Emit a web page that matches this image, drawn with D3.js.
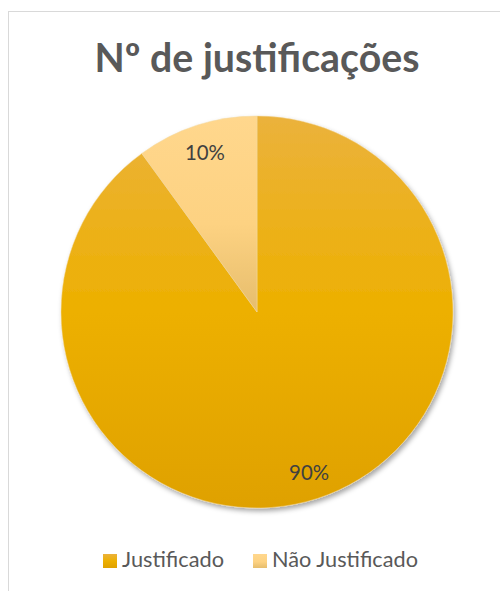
<!DOCTYPE html>
<html>
<head>
<meta charset="utf-8">
<script src="https://cdn.jsdelivr.net/npm/d3@7"></script>
<style>
  body { margin: 0; background: #fff; }
  svg { display: block; }
</style>
</head>
<body>
<div id="chart"></div>
<script>
// data
const categories = ["Justificado", "Não Justificado"];
const values = [90, 10];
const pctLabels = ["90%", "10%"];
const title = "Nº de justificações";

// gradient stops for each slice (top -> bottom)
const sliceStops = [
  [["0%", "#ebb23c"], ["50%", "#edb000"], ["100%", "#dfa100"]],
  [["0%", "#ffd78d"], ["55%", "#fdd282"], ["100%", "#e6bd6c"]]
];

const width = 500, height = 591;
const cx = 257, cy = 312, radius = 196;
const fontFam = "Lato, 'Open Sans', sans-serif";

const svg = d3.select("#chart").append("svg")
  .attr("width", width)
  .attr("height", height);

const defs = svg.append("defs");

sliceStops.forEach((stops, i) => {
  let g = defs.append("linearGradient")
    .attr("id", "grad" + i)
    .attr("x1", 0).attr("y1", 0).attr("x2", 0).attr("y2", 1);
  stops.forEach(s => g.append("stop").attr("offset", s[0]).attr("stop-color", s[1]));
});

let shadow = defs.append("filter").attr("id", "shadow")
  .attr("x", "-10%").attr("y", "-10%").attr("width", "120%").attr("height", "120%");
shadow.append("feDropShadow")
  .attr("dx", 2).attr("dy", 3).attr("stdDeviation", 2.5)
  .attr("flood-color", "#000").attr("flood-opacity", 0.35);

// chart frame
svg.append("rect")
  .attr("x", 8.5).attr("y", 11.5)
  .attr("width", width + 10).attr("height", height + 10)
  .attr("fill", "#fff")
  .attr("stroke", "#d9d9d9");

// helper to fit a text element to a given width
function fitText(sel, targetW, startSize) {
  sel.attr("font-size", startSize);
  let w = sel.node().getComputedTextLength();
  sel.attr("font-size", startSize * targetW / w);
}

// title
let t = svg.append("text")
  .attr("x", 257).attr("y", 72)
  .attr("text-anchor", "middle")
  .attr("font-family", fontFam)
  .attr("font-weight", "bold")
  .attr("fill", "#595959")
  .text(title);
fitText(t, 325, 36);

// pie
const pie = d3.pie().sort(null).value(d => d);
const arcs = pie(values);
const arc = d3.arc().innerRadius(0).outerRadius(radius);
const labelArc = d3.arc().innerRadius(radius * 0.86).outerRadius(radius * 0.86);

const pieG = svg.append("g")
  .attr("transform", `translate(${cx},${cy})`);

pieG.append("g")
  .attr("filter", "url(#shadow)")
  .selectAll("path")
  .data(arcs)
  .join("path")
    .attr("d", arc)
    .attr("fill", (d, i) => `url(#grad${i})`)
    .attr("stroke", "#f3d9a0")
    .attr("stroke-width", 0.5);

pieG.selectAll("text.pct")
  .data(arcs)
  .join("text")
    .attr("class", "pct")
    .attr("x", d => labelArc.centroid(d)[0])
    .attr("y", d => labelArc.centroid(d)[1])
    .attr("text-anchor", "middle")
    .attr("dominant-baseline", "central")
    .attr("font-family", fontFam)
    .attr("fill", "#404040")
    .text((d, i) => pctLabels[i])
    .each(function() { fitText(d3.select(this), 40, 18); });

// legend
const legendX = [103, 253];
const legendW = [102, 146];
const legend = svg.append("g");

categories.forEach((c, i) => {
  legend.append("rect")
    .attr("x", legendX[i]).attr("y", 554)
    .attr("width", 14).attr("height", 14)
    .attr("fill", `url(#grad${i})`);
  let lt = legend.append("text")
    .attr("x", legendX[i] + 19).attr("y", 567)
    .attr("font-family", fontFam)
    .attr("fill", "#595959")
    .text(c);
  fitText(lt, legendW[i], 18);
});
</script>
</body>
</html>
